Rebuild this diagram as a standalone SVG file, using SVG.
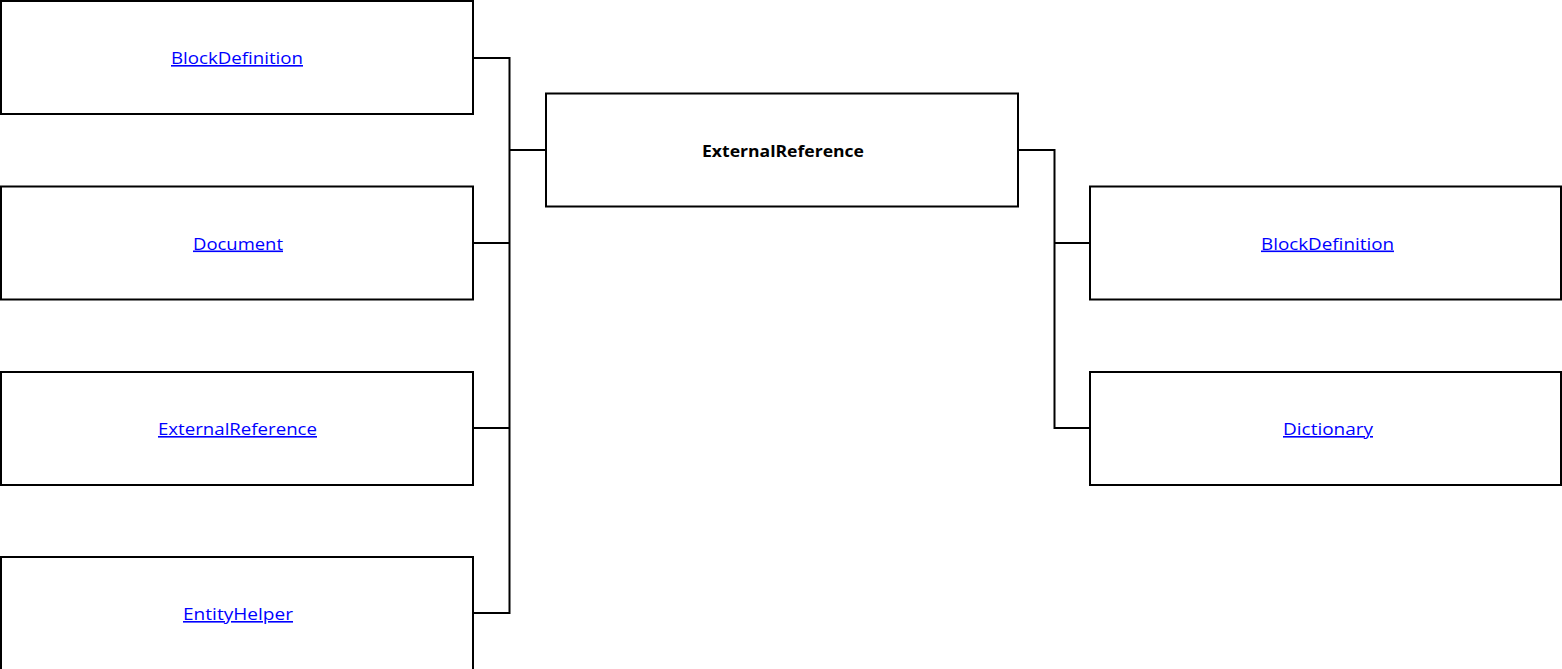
<svg xmlns="http://www.w3.org/2000/svg" width="1562" height="669" viewBox="0 0 1562 669">
<style>
.box{fill:#fff;stroke:#000;stroke-width:2}
.lnk{font-family:"Open Sans","Liberation Sans",sans-serif;font-size:16px;fill:#0000ff;text-decoration:underline;text-anchor:middle}
.main{font-family:"Open Sans","Liberation Sans",sans-serif;font-size:16px;font-weight:bold;fill:#000;text-anchor:middle}
.conn{fill:none;stroke:#000;stroke-width:2}
</style>
<rect width="1562" height="669" fill="#fff"/>
<g id="connectors">
<path class="conn" d="M473,58 H509.5 V613 H473 M473,243 H509.5 M473,428 H509.5 M509.5,150 H546"/>
<path class="conn" d="M1018,150 H1054.5 V428 H1090 M1054.5,243 H1090"/>
</g>
<g id="left-blockdefinition">
<rect class="box" x="1" y="1" width="472" height="113"/>
<text class="lnk" x="237" y="64" textLength="132" lengthAdjust="spacingAndGlyphs">BlockDefinition</text>
</g>
<g id="left-document">
<rect class="box" x="1" y="186.5" width="472" height="113"/>
<text class="lnk" x="238" y="249.5" textLength="90" lengthAdjust="spacingAndGlyphs">Document</text>
</g>
<g id="left-externalreference">
<rect class="box" x="1" y="372" width="472" height="113"/>
<text class="lnk" x="237.5" y="435" textLength="159" lengthAdjust="spacingAndGlyphs">ExternalReference</text>
</g>
<g id="left-entityhelper">
<rect class="box" x="1" y="557" width="472" height="114"/>
<text class="lnk" x="238" y="620" textLength="110" lengthAdjust="spacingAndGlyphs">EntityHelper</text>
</g>
<g id="center-externalreference">
<rect class="box" x="546" y="93.5" width="472" height="113"/>
<text class="main" x="783" y="157" textLength="162" lengthAdjust="spacingAndGlyphs">ExternalReference</text>
</g>
<g id="right-blockdefinition">
<rect class="box" x="1090" y="186.5" width="471" height="113"/>
<text class="lnk" x="1327.5" y="249.5" textLength="133" lengthAdjust="spacingAndGlyphs">BlockDefinition</text>
</g>
<g id="right-dictionary">
<rect class="box" x="1090" y="372" width="471" height="113"/>
<text class="lnk" x="1328" y="435" textLength="90" lengthAdjust="spacingAndGlyphs">Dictionary</text>
</g>
</svg>
